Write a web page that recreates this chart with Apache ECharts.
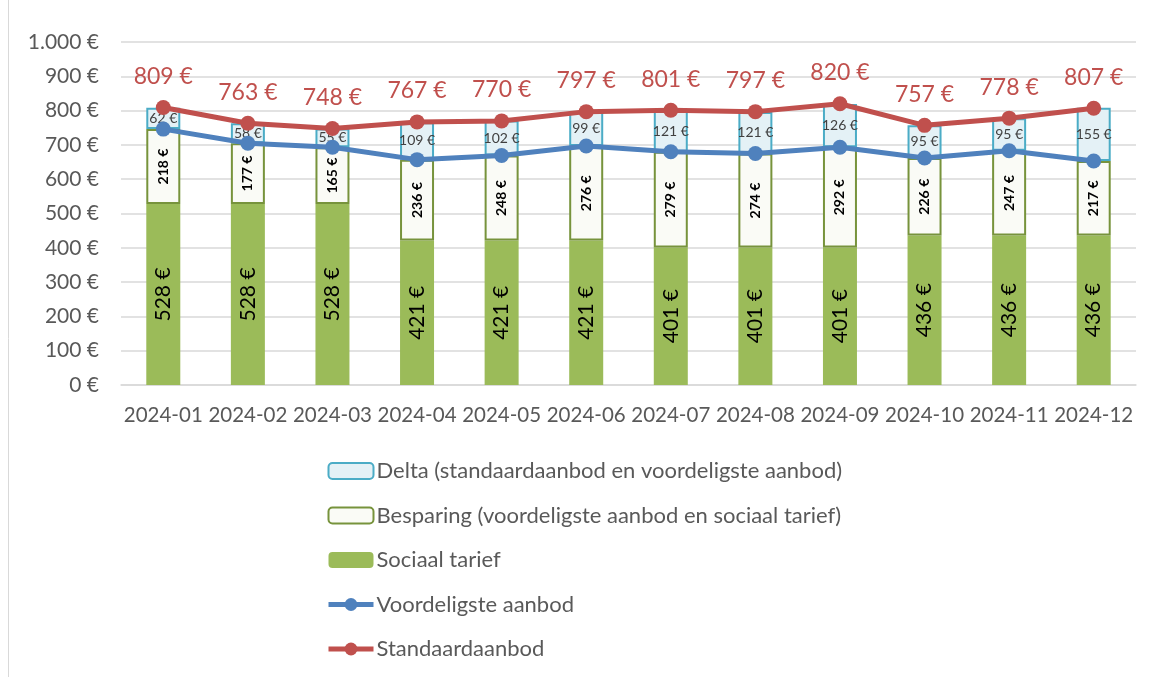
<!DOCTYPE html>
<html lang="nl">
<head>
    <meta charset="UTF-8">
    <title>Sociaal tarief 2024</title>
    <script src="https://cdn.jsdelivr.net/npm/echarts@6/dist/echarts.min.js"></script>
    <style>
        html, body { margin: 0; padding: 0; background: #fff; }
    </style>
</head>
<body>
<div id="main" style="width: 1154px;height:677px;"></div>
<script type="text/javascript">
    var months = ['2024-01', '2024-02', '2024-03', '2024-04', '2024-05', '2024-06',
                  '2024-07', '2024-08', '2024-09', '2024-10', '2024-11', '2024-12'];
    var sociaalTarief = [528, 528, 528, 421, 421, 421, 401, 401, 401, 436, 436, 436];
    var besparing = [218, 177, 165, 236, 248, 276, 279, 274, 292, 226, 247, 217];
    var delta = [62, 58, 55, 109, 102, 99, 121, 121, 126, 95, 95, 155];
    var voordeligste = [746, 705, 693, 657, 669, 697, 680, 675, 693, 662, 683, 653];
    var standaard = [809, 763, 748, 767, 770, 797, 801, 797, 820, 757, 778, 807];

    var font = 'Lato, "Open Sans", sans-serif';

    function euro(v) {
        var s = String(v).replace(/\B(?=(\d{3})+(?!\d))/g, '.');
        return s + ' €';
    }

    var myChart = echarts.init(document.getElementById('main'));

    myChart.setOption({
        animation: false,
        textStyle: { fontFamily: font },
        grid: { left: 121, right: 18, top: 42, bottom: 292 },
        graphic: [{
            type: 'line',
            shape: { x1: 8.5, y1: 0, x2: 8.5, y2: 677 },
            style: { stroke: '#D9D9D9', lineWidth: 1 }
        }],
        legend: {
            orient: 'vertical',
            left: 321,
            top: 455,
            itemGap: 22.5,
            itemWidth: 45,
            itemHeight: 16,
            textStyle: { fontSize: 22, color: '#595959', fontFamily: font, padding: [0, 0, 0, -2] },
            data: [
                'Delta (standaardaanbod en voordeligste aanbod)',
                'Besparing (voordeligste aanbod en sociaal tarief)',
                'Sociaal tarief',
                { name: 'Voordeligste aanbod', lineStyle: { width: 5 } },
                { name: 'Standaardaanbod', lineStyle: { width: 5 } }
            ]
        },
        xAxis: {
            type: 'category',
            data: months,
            axisTick: { show: false },
            axisLine: { lineStyle: { color: '#D9D9D9', width: 1.5 } },
            axisLabel: { fontSize: 20.5, color: '#595959', margin: 20, interval: 0 }
        },
        yAxis: {
            type: 'value',
            min: 0,
            max: 1000,
            interval: 100,
            axisLabel: {
                fontSize: 21, color: '#595959', margin: 22,
                formatter: function (v) { return euro(v); }
            },
            splitLine: { lineStyle: { color: '#D9D9D9', width: 1.5 } }
        },
        series: [
            {
                name: 'Sociaal tarief',
                type: 'bar',
                stack: 'totaal',
                barWidth: 34,
                data: sociaalTarief,
                itemStyle: { color: '#9BBB59' },
                label: {
                    show: true, position: 'inside', rotate: 90,
                    fontSize: 21, color: '#000',
                    formatter: function (p) { return euro(p.value); }
                }
            },
            {
                name: 'Besparing (voordeligste aanbod en sociaal tarief)',
                type: 'bar',
                stack: 'totaal',
                data: besparing,
                itemStyle: { color: '#FAFBF6', borderColor: '#77933C', borderWidth: 2 },
                label: {
                    show: true, position: 'inside', rotate: 90,
                    fontSize: 14, fontWeight: 'bold', color: '#000',
                    formatter: function (p) { return euro(p.value); }
                }
            },
            {
                name: 'Delta (standaardaanbod en voordeligste aanbod)',
                type: 'bar',
                stack: 'totaal',
                data: delta,
                itemStyle: { color: '#E4F1F6', borderColor: '#4BACC6', borderWidth: 2 },
                label: {
                    show: true, position: 'inside',
                    fontSize: 14, color: '#404040',
                    formatter: function (p) { return euro(p.value); }
                }
            },
            {
                name: 'Voordeligste aanbod',
                type: 'line',
                data: voordeligste,
                symbol: 'circle',
                symbolSize: 15,
                lineStyle: { color: '#4F81BD', width: 5 },
                itemStyle: { color: '#4F81BD' }
            },
            {
                name: 'Standaardaanbod',
                type: 'line',
                data: standaard,
                symbol: 'circle',
                symbolSize: 15,
                lineStyle: { color: '#C0504D', width: 5 },
                itemStyle: { color: '#C0504D' },
                label: {
                    show: true, position: 'top', distance: 12,
                    fontSize: 23, color: '#C0504D',
                    formatter: function (p) { return euro(p.value); }
                }
            }
        ]
    });
</script>
</body>
</html>
